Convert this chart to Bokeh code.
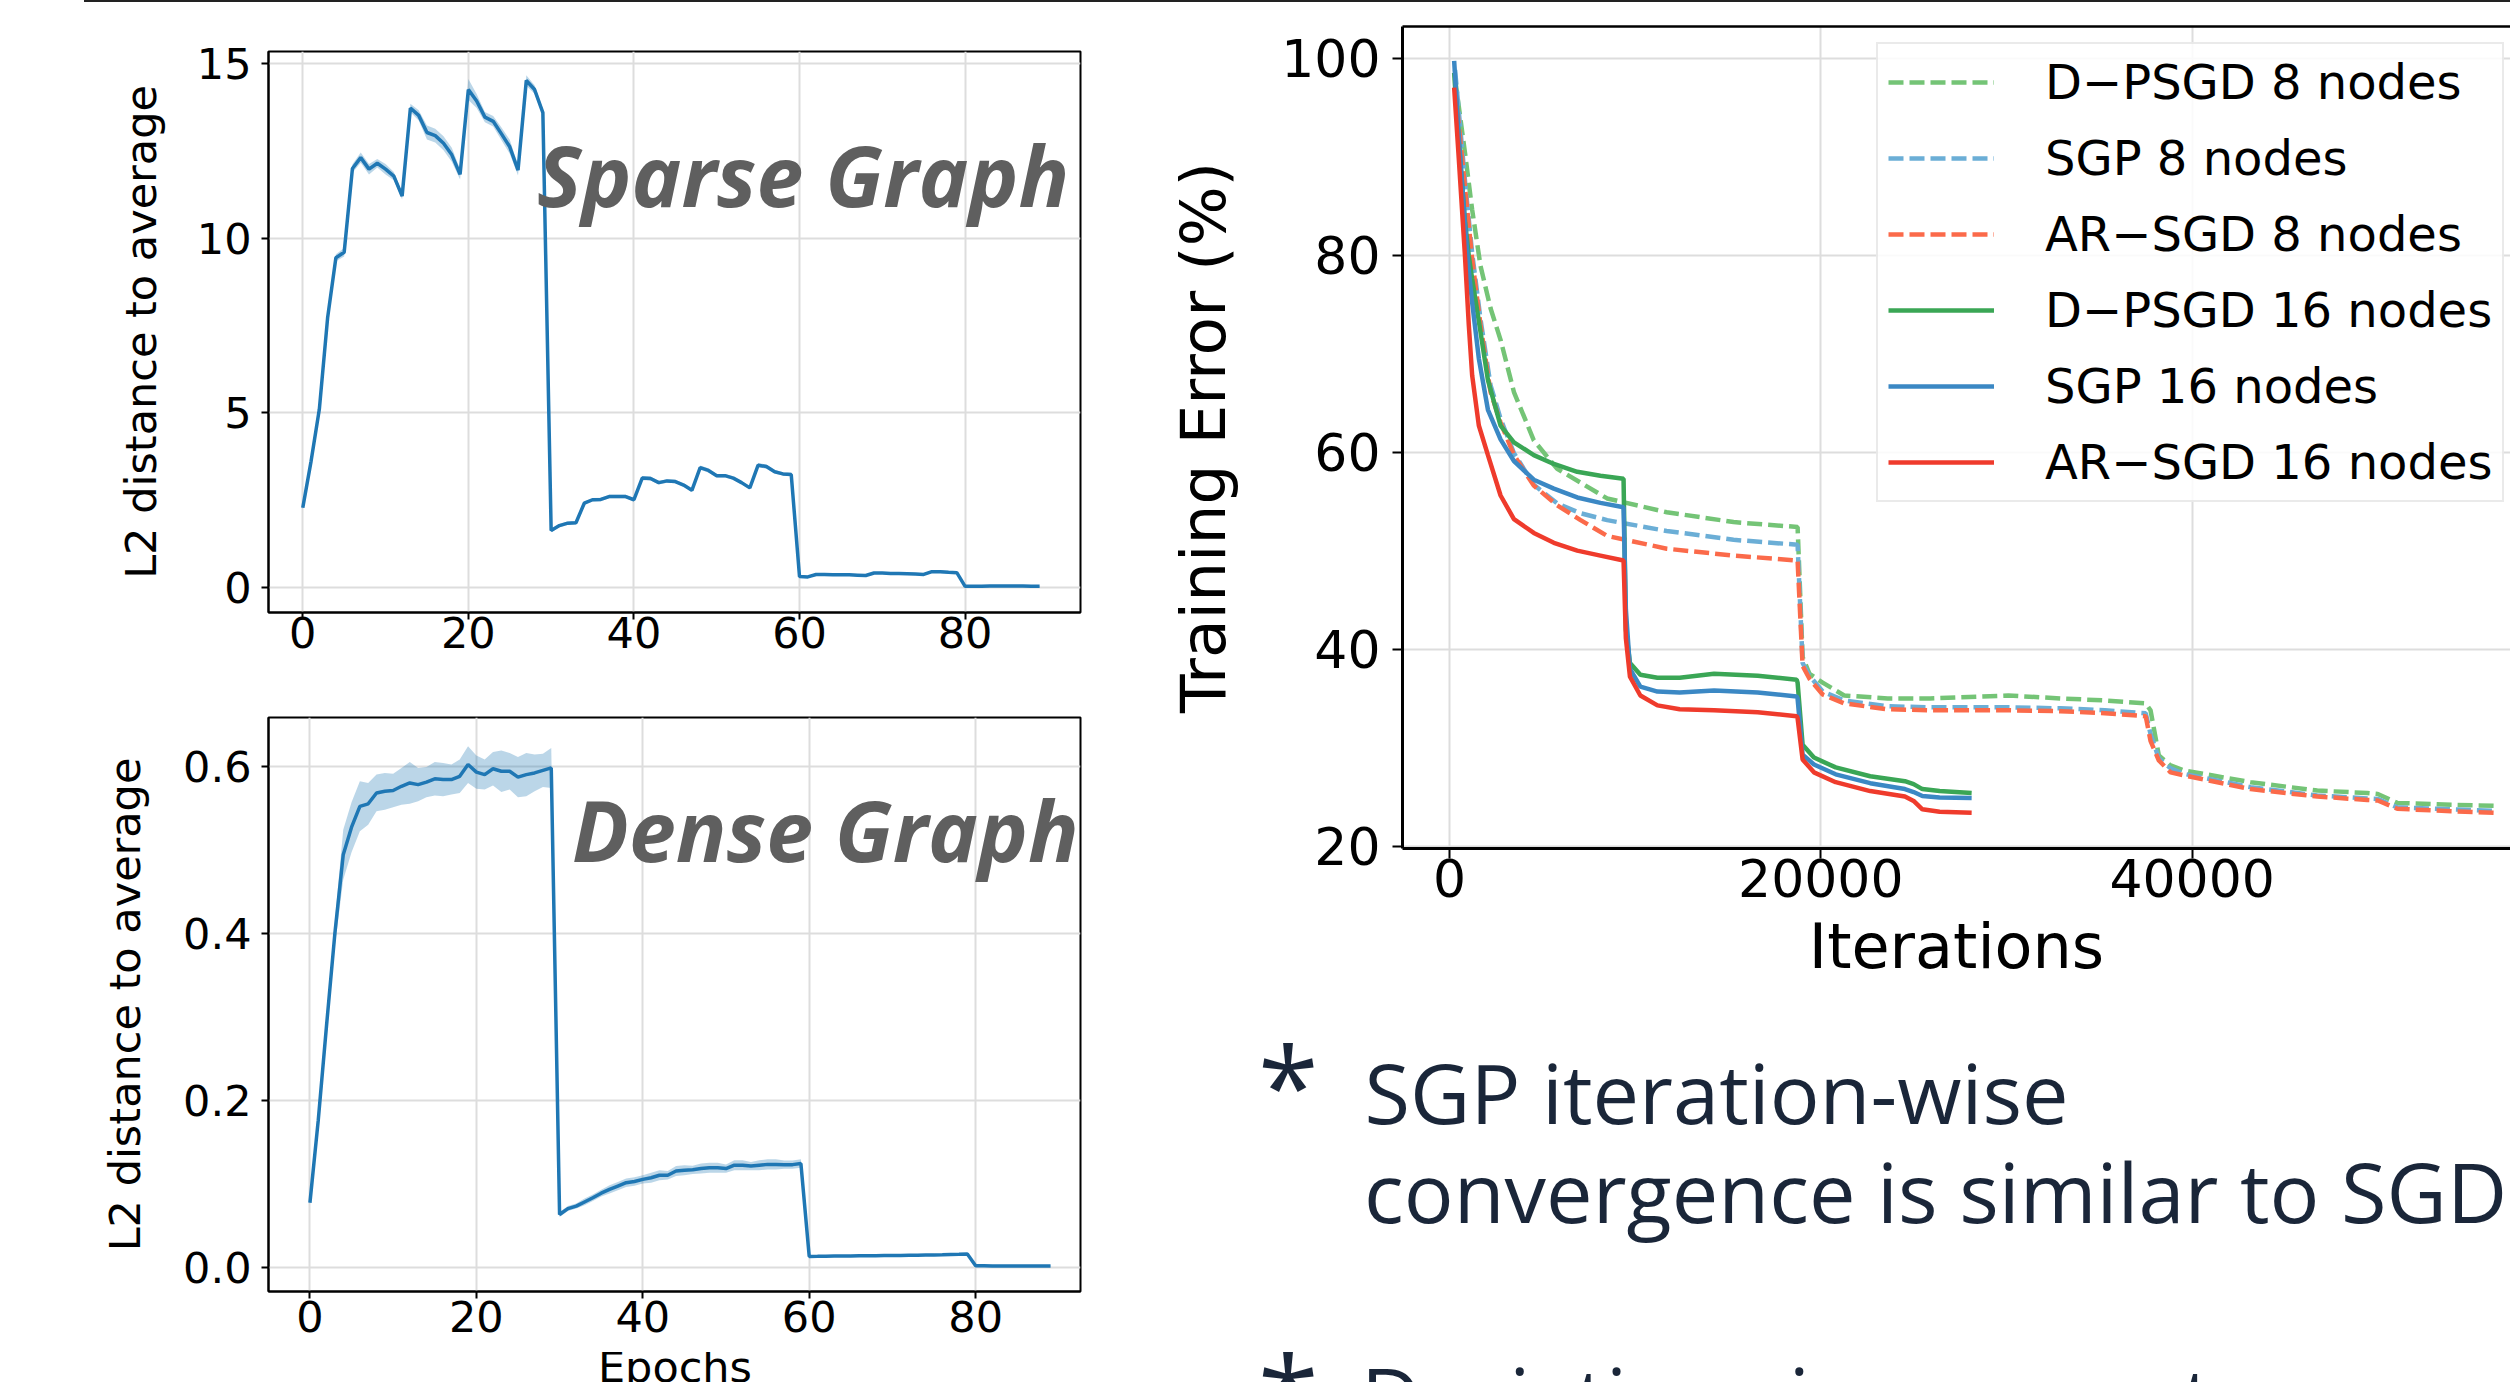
from bokeh.plotting import figure
from bokeh.layouts import column, row
from bokeh.models import (Range1d, FixedTicker, PrintfTickFormatter, Label, Legend,
                          LegendItem, LinearAxis, Div)
from bokeh.embed import file_html
from bokeh.resources import INLINE

# ---------------- data ----------------
epochs = list(range(90))

sparse_l2 = [2.28, 3.61, 5.10, 7.72, 9.44, 9.60, 12.00, 12.31, 11.98, 12.15,
             11.98, 11.78, 11.21, 13.73, 13.52, 13.03, 12.94, 12.72, 12.39, 11.83,
             14.26, 13.93, 13.47, 13.35, 12.99, 12.62, 11.95, 14.52, 14.26, 13.60,
             1.63, 1.77, 1.84, 1.85, 2.41, 2.51, 2.52, 2.60, 2.60, 2.60,
             2.51, 3.13, 3.12, 3.00, 3.05, 3.03, 2.93, 2.78, 3.43, 3.35,
             3.20, 3.20, 3.13, 3.00, 2.85, 3.50, 3.46, 3.31, 3.25, 3.23,
             0.31, 0.30, 0.37, 0.37, 0.36, 0.36, 0.36, 0.35, 0.34, 0.41,
             0.41, 0.40, 0.40, 0.39, 0.38, 0.37, 0.45, 0.45, 0.43, 0.42,
             0.03, 0.03, 0.03, 0.04, 0.04, 0.04, 0.04, 0.04, 0.03, 0.03]
sparse_spread = [0.05, 0.05, 0.06, 0.08, 0.10, 0.12, 0.12, 0.15, 0.15, 0.12,
                 0.15, 0.12, 0.10, 0.12, 0.15, 0.20, 0.20, 0.20, 0.20, 0.15,
                 0.30, 0.20, 0.15, 0.15, 0.18, 0.20, 0.15, 0.15, 0.12, 0.10,
                 0.05, 0.05, 0.05, 0.05, 0.05, 0.05, 0.05, 0.05, 0.05, 0.05,
                 0.05, 0.06, 0.06, 0.05, 0.05, 0.05, 0.05, 0.05, 0.06, 0.06,
                 0.05, 0.05, 0.05, 0.05, 0.05, 0.06, 0.06, 0.05, 0.05, 0.05,
                 0.03, 0.03, 0.03, 0.03, 0.03, 0.03, 0.03, 0.03, 0.03, 0.03,
                 0.03, 0.03, 0.03, 0.03, 0.03, 0.03, 0.04, 0.04, 0.03, 0.03,
                 0.01, 0.01, 0.01, 0.01, 0.01, 0.01, 0.01, 0.01, 0.01, 0.01]

dense_l2 = [0.077, 0.176, 0.290, 0.400, 0.494, 0.527, 0.552, 0.555, 0.568, 0.570,
            0.571, 0.576, 0.580, 0.578, 0.581, 0.585, 0.584, 0.584, 0.588, 0.602,
            0.593, 0.590, 0.597, 0.594, 0.594, 0.587, 0.590, 0.592, 0.595, 0.598,
            0.063, 0.070, 0.073, 0.078, 0.083, 0.0885, 0.093, 0.097, 0.101, 0.1025,
            0.105, 0.107, 0.110, 0.110, 0.115, 0.116, 0.1165, 0.118, 0.119, 0.119,
            0.118, 0.122, 0.122, 0.121, 0.122, 0.123, 0.123, 0.1227, 0.1227, 0.124,
            0.0127, 0.0128, 0.0130, 0.0131, 0.0132, 0.0133, 0.0134, 0.0135, 0.0136, 0.0137,
            0.0138, 0.0139, 0.0140, 0.0141, 0.0143, 0.0145, 0.0147, 0.0150, 0.0152, 0.0155,
            0.0015, 0.0015, 0.0014, 0.0014, 0.0014, 0.0014, 0.0013, 0.0013, 0.0013, 0.0013]
dense_spread = [0.002, 0.004, 0.008, 0.015, 0.030, 0.030, 0.030, 0.025, 0.022, 0.022,
                0.020, 0.022, 0.025, 0.020, 0.018, 0.020, 0.020, 0.018, 0.020, 0.022,
                0.020, 0.018, 0.020, 0.025, 0.022, 0.024, 0.026, 0.022, 0.020, 0.024,
                0.003, 0.003, 0.003, 0.004, 0.004, 0.004, 0.005, 0.005, 0.005, 0.005,
                0.005, 0.006, 0.006, 0.005, 0.006, 0.006, 0.005, 0.006, 0.006, 0.006,
                0.005, 0.006, 0.006, 0.005, 0.006, 0.006, 0.006, 0.005, 0.005, 0.005,
                0.001, 0.001, 0.001, 0.001, 0.001, 0.001, 0.001, 0.001, 0.001, 0.001,
                0.001, 0.001, 0.001, 0.001, 0.001, 0.001, 0.001, 0.001, 0.001, 0.001,
                0.0005, 0.0005, 0.0005, 0.0005, 0.0005, 0.0005, 0.0005, 0.0005, 0.0005, 0.0005]

iters_16 = [250, 500, 830, 1040, 1220, 1580, 2070, 2750, 3470, 4540, 5620, 6880, 8130, 9375,
            9500, 9720, 10280, 11200, 12400, 14250, 16600, 18700, 18750, 19020, 19630,
            20800, 22660, 24530, 25000, 25470, 26400, 28125]
dpsgd_16 = [98.5, 91.5, 83.5, 79.9, 77.6, 73.3, 67.3, 62.7, 61.0, 59.7, 58.8, 58.0, 57.6, 57.3,
            42.0, 38.6, 37.4, 37.1, 37.1, 37.5, 37.3, 36.9, 36.6, 30.3, 29.0,
            28.0, 27.1, 26.6, 26.3, 25.8, 25.6, 25.4]
sgp_16 = [99.7, 92.0, 83.2, 78.4, 75.2, 69.5, 64.3, 61.3, 59.1, 57.2, 56.3, 55.4, 54.85, 54.4,
          44.0, 38.0, 36.2, 35.7, 35.6, 35.8, 35.6, 35.2, 35.0, 29.3, 28.3,
          27.3, 26.4, 25.8, 25.5, 25.1, 24.95, 24.9]
arsgd_16 = [97.0, 89.8, 80.0, 72.9, 67.8, 62.7, 59.7, 55.6, 53.2, 51.8, 50.8, 50.0, 49.5, 49.0,
            41.1, 37.2, 35.3, 34.3, 33.9, 33.8, 33.6, 33.2, 33.0, 28.8, 27.5,
            26.5, 25.6, 25.05, 24.6, 23.75, 23.5, 23.4]

iters_8 = [300, 860, 1220, 1670, 2210, 2750, 3470, 4540, 5800, 7060, 8490, 11700, 15300, 18750,
           19020, 19390, 20100, 21260, 23600, 25900, 30100, 32900, 35300, 37500,
           37760, 38210, 38840, 39550, 43150, 46740, 49430, 50000, 51050, 53970, 56250]
dpsgd_8 = [97.9, 90.0, 84.6, 78.9, 74.6, 71.4, 66.1, 61.2, 58.3, 56.9, 55.3, 53.9, 52.9, 52.4,
           39.2, 37.5, 36.6, 35.3, 35.0, 35.0, 35.3, 35.0, 34.8, 34.5,
           33.8, 29.2, 28.2, 27.7, 26.5, 25.65, 25.4, 25.3, 24.4, 24.2, 24.1]
sgp_8 = [98.8, 87.0, 80.2, 73.5, 66.8, 63.4, 59.9, 56.7, 54.8, 53.8, 53.1, 52.0, 51.1, 50.6,
         38.6, 37.3, 35.7, 34.8, 34.2, 34.1, 34.1, 34.0, 33.8, 33.5,
         31.4, 28.9, 27.9, 27.35, 26.0, 25.15, 24.85, 24.8, 23.95, 23.75, 23.6]
arsgd_8 = [97.0, 86.4, 79.6, 72.9, 66.1, 63.0, 59.7, 56.6, 54.6, 53.1, 51.5, 50.2, 49.5, 49.0,
           38.3, 37.0, 35.4, 34.5, 33.9, 33.8, 33.8, 33.7, 33.5, 33.2,
           30.7, 28.7, 27.5, 27.2, 25.8, 25.05, 24.7, 24.64, 23.8, 23.55, 23.4]

legend_labels = ["D\u2212PSGD 8 nodes", "SGP 8 nodes", "AR\u2212SGD 8 nodes",
                 "D\u2212PSGD 16 nodes", "SGP 16 nodes", "AR\u2212SGD 16 nodes"]

bullet_lines = ["SGP iteration-wise", "convergence is similar to SGD", "Deviations in parameters"]

# ---------------- styling helpers ----------------
FONT = "DejaVu Sans"
BLUE = "#1f77b4"
GRID = "#dddddd"
TXT = "#1a2639"


def style_axes(p, tick_px, label_px, tick_out, ystand, xstand, ylab_stand, xlab_stand):
    for ax in p.axis:
        ax.major_label_text_font = FONT
        ax.major_label_text_font_size = f"{tick_px}px"
        ax.major_label_text_color = "black"
        ax.axis_label_text_font = FONT
        ax.axis_label_text_font_size = f"{label_px}px"
        ax.axis_label_text_font_style = "normal"
        ax.axis_label_text_color = "black"
        ax.major_tick_in = 0
        ax.major_tick_out = tick_out
        ax.major_tick_line_width = 2
        ax.major_tick_line_color = "black"
        ax.minor_tick_line_color = None
        ax.axis_line_width = 2
        ax.axis_line_color = "black"
    p.yaxis.major_label_standoff = ystand
    p.xaxis.major_label_standoff = xstand
    p.yaxis.axis_label_standoff = ylab_stand
    p.xaxis.axis_label_standoff = xlab_stand
    p.grid.grid_line_color = GRID
    p.grid.grid_line_width = 2
    p.background_fill_color = "white"
    p.border_fill_color = "white"


# ---------------- sparse graph ----------------
ps = figure(width=1130, height=675, x_range=Range1d(-4.14, 93.94), y_range=Range1d(-0.72, 15.35),
            min_border_left=268, min_border_right=50, min_border_top=49, min_border_bottom=65,
            output_backend="svg", toolbar_location=None)
ps.outline_line_color = "black"
ps.outline_line_width = 2
ps.xaxis.ticker = FixedTicker(ticks=[0, 20, 40, 60, 80])
ps.yaxis.ticker = FixedTicker(ticks=[0, 5, 10, 15])
ps.yaxis.axis_label = "L2 distance to average"
style_axes(ps, 43, 43, 7, 10, -3, 28, 10)
sp_lo = [v - s for v, s in zip(sparse_l2, sparse_spread)]
sp_hi = [v + s for v, s in zip(sparse_l2, sparse_spread)]
ps.varea(x=epochs, y1=sp_lo, y2=sp_hi, fill_color=BLUE, fill_alpha=0.3)
ps.line(x=epochs, y=sparse_l2, line_color=BLUE, line_width=3.5)
ps.add_layout(Label(x=28.3, y=11.83, text="Sparse Graph", text_font="Open Sans",
                    text_font_size="84px", text_font_style="bold italic", text_color="#5f5f5f",
                    text_baseline="middle"))

# ---------------- dense graph ----------------
pd = figure(width=1130, height=675, x_range=Range1d(-4.98, 92.6), y_range=Range1d(-0.0293, 0.6584),
            min_border_left=268, min_border_right=50, min_border_top=40, min_border_bottom=61,
            output_backend="svg", toolbar_location=None)
pd.outline_line_color = "black"
pd.outline_line_width = 2
pd.xaxis.ticker = FixedTicker(ticks=[0, 20, 40, 60, 80])
pd.yaxis.ticker = FixedTicker(ticks=[0.0, 0.2, 0.4, 0.6])
pd.yaxis.formatter = PrintfTickFormatter(format="%.1f")
pd.yaxis.axis_label = "L2 distance to average"
style_axes(pd, 43, 43, 7, 10, 2, 30, 10)
de_lo = [v - s for v, s in zip(dense_l2, dense_spread)]
de_hi = [v + s for v, s in zip(dense_l2, dense_spread)]
pd.varea(x=epochs, y1=de_lo, y2=de_hi, fill_color=BLUE, fill_alpha=0.3)
pd.line(x=epochs, y=dense_l2, line_color=BLUE, line_width=3.5)
pd.add_layout(Label(x=31.5, y=0.524, text="Dense Graph", text_font="Open Sans",
                    text_font_size="84px", text_font_style="bold italic", text_color="#5f5f5f",
                    text_baseline="middle"))

epochs_div = Div(
    text=('<svg xmlns="http://www.w3.org/2000/svg" width="1130" height="30" style="display:block">'
          '<text x="675" y="30.2" text-anchor="middle" '
          'style="font-family:\'DejaVu Sans\';font-size:43px;fill:black">Epochs</text></svg>'),
    width=1130, height=30, margin=(0, 0, 0, 0), styles={"overflow": "hidden"})

# ---------------- training error ----------------
pr = figure(width=1380, height=1004, x_range=Range1d(-2532, 57150), y_range=Range1d(19.77, 103.2),
            min_border_left=272, min_border_right=0, min_border_top=24, min_border_bottom=158,
            output_backend="svg", toolbar_location=None)
pr.outline_line_color = None
pr.xaxis.ticker = FixedTicker(ticks=[0, 20000, 40000])
pr.yaxis.ticker = FixedTicker(ticks=[20, 40, 60, 80, 100])
pr.xaxis.axis_label = "Iterations"
pr.yaxis.axis_label = "Training Error (%)"
style_axes(pr, 52, 62, 10, 12, 0, 38, 10)
pr.yaxis.axis_label_text_font_size = "63px"
for ax in pr.axis:
    ax.axis_line_width = 3
top_axis = LinearAxis(major_tick_line_color=None, minor_tick_line_color=None,
                      major_label_text_font_size="0px", axis_line_width=2.5,
                      axis_line_color="black", ticker=FixedTicker(ticks=[]))
pr.add_layout(top_axis, "above")

series = [
    (iters_8, dpsgd_8, "#74c476", "15 6"),
    (iters_8, sgp_8, "#6baed6", "15 6"),
    (iters_8, arsgd_8, "#fb6a4a", "15 6"),
    (iters_16, dpsgd_16, "#3aa655", "solid"),
    (iters_16, sgp_16, "#3b88c4", "solid"),
    (iters_16, arsgd_16, "#ef3b2c", "solid"),
]
items = []
for (xs, ys, col, dash), lab in zip(series, legend_labels):
    r = pr.line(x=xs, y=ys, line_color=col, line_width=4.5, line_dash=dash)
    items.append(LegendItem(label=lab, renderers=[r]))

legend = Legend(items=items, location=(474, 346), label_text_font=FONT,
                label_text_font_size="48px", label_text_color="black",
                glyph_width=106, glyph_height=40, label_height=40, label_standoff=51,
                spacing=20, padding=10, margin=0,
                border_line_color="#d6d6d6", border_line_width=2,
                background_fill_color="white", background_fill_alpha=0.85)
pr.add_layout(legend)

# ---------------- bullet text (slide text below the chart) ----------------
svg_parts = ['<svg xmlns="http://www.w3.org/2000/svg" width="1380" height="376" style="display:block">']
for x, y, txt, size in [(128, 120.6, "*", 110), (234.6, 118.3, bullet_lines[0], 83),
                        (234, 216.7, bullet_lines[1], 83), (128, 429.6, "*", 110),
                        (231, 422.3, bullet_lines[2], 83)]:
    svg_parts.append(f'<text x="{x}" y="{y}" style="font-family:\'Open Sans\';'
                     f'font-size:{size}px;fill:{TXT}">{txt}</text>')
svg_parts.append('</svg>')
text_div = Div(text="".join(svg_parts), width=1380, height=376, margin=(0, 0, 0, 0),
               styles={"overflow": "hidden"})

# ---------------- layout ----------------
top_line = Div(text="", width=2426, height=2, margin=(0, 0, 0, 84),
               styles={"background-color": "#222222"})
layout = column(top_line, row(column(ps, pd, epochs_div), column(pr, text_div)))

open("out.html", "w").write(file_html(layout, INLINE))
